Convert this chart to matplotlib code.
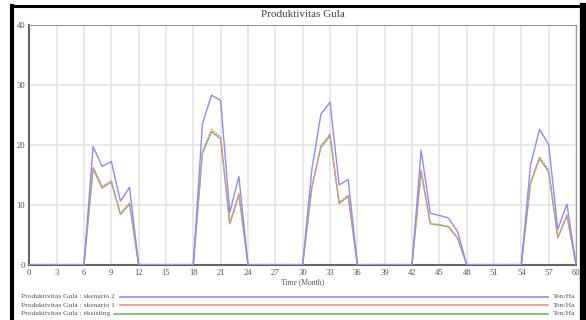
import matplotlib
matplotlib.use('Agg')
import matplotlib.pyplot as plt
from matplotlib.lines import Line2D

# data (Ton/Ha per month)
months = list(range(0, 61))

skenario_2 = [0, 0, 0, 0, 0, 0, 0, 19.7, 16.4, 17.2, 10.6, 12.9, 0,
              0, 0, 0, 0, 0, 0, 23.5, 28.3, 27.4, 8.7, 14.7, 0,
              0, 0, 0, 0, 0, 0, 15.8, 25.1, 27.1, 13.3, 14.2, 0,
              0, 0, 0, 0, 0, 0, 19.1, 8.6, 8.2, 7.8, 5.5, 0,
              0, 0, 0, 0, 0, 0, 16.6, 22.6, 20.0, 5.9, 10.1, 0]

skenario_1 = [0, 0, 0, 0, 0, 0, 0, 16.3, 13.1, 14.0, 8.6, 10.3, 0,
              0, 0, 0, 0, 0, 0, 18.9, 22.6, 21.3, 6.9, 11.9, 0,
              0, 0, 0, 0, 0, 0, 13.0, 19.9, 21.8, 10.4, 11.6, 0,
              0, 0, 0, 0, 0, 0, 15.8, 6.9, 6.7, 6.4, 4.5, 0,
              0, 0, 0, 0, 0, 0, 13.8, 18.0, 15.8, 4.6, 8.3, 0]

existing = [0, 0, 0, 0, 0, 0, 0, 16.0, 12.8, 13.8, 8.4, 10.1, 0,
            0, 0, 0, 0, 0, 0, 18.6, 22.2, 21.0, 6.8, 11.7, 0,
            0, 0, 0, 0, 0, 0, 12.8, 19.6, 21.5, 10.2, 11.4, 0,
            0, 0, 0, 0, 0, 0, 15.6, 6.8, 6.6, 6.3, 4.4, 0,
            0, 0, 0, 0, 0, 0, 13.6, 17.7, 15.5, 4.5, 8.2, 0]

x_ticks = list(range(0, 61, 3))
y_ticks = [0, 10, 20, 30, 40]

series_names = ['Produktivitas Gula : skenario 2',
                'Produktivitas Gula : skenario 1',
                'Produktivitas Gula : eksisting']
unit = 'Ton/Ha'

blue = '#8c8cff'
red = '#ff8a8a'
green = '#6cb86c'
txt = '#555555'

plt.rcParams['font.family'] = ['Liberation Serif', 'DejaVu Serif']

fig = plt.figure(figsize=(5.86, 3.2), dpi=100)
fig.patch.set_facecolor('white')

ax = fig.add_axes([0.05, 0.173, 0.933, 0.749])
ax.plot(months, existing, color=green, lw=1.0, zorder=3)
ax.plot(months, skenario_1, color=red, lw=1.0, ls=(0, (1.5, 0.8)), zorder=4)
ax.plot(months, skenario_2, color=blue, lw=1.0, zorder=5)

ax.set_xlim(0, 60)
ax.set_ylim(0, 40)
ax.set_xticks(x_ticks)
ax.set_yticks(y_ticks)
ax.set_xticklabels([str(t) for t in x_ticks], fontsize=6.2, color=txt)
ax.set_yticklabels([str(t) for t in y_ticks], fontsize=6.2, color=txt)
ax.tick_params(length=0, pad=3)
ax.grid(True, color='#e4e4e4', lw=1.2)
ax.set_axisbelow(True)
ax.spines['left'].set_color('#666666')
ax.spines['left'].set_linewidth(1.5)
ax.spines['bottom'].set_color('#666666')
ax.spines['bottom'].set_linewidth(1.5)
ax.spines['top'].set_color('#999999')
ax.spines['right'].set_color('#999999')
ax.set_xlabel('Time (Month)', fontsize=5.5, color=txt, labelpad=1)

fig.text(0.517, 0.955, 'Produktivitas Gula', fontsize=8, color='#444444',
         ha='center', va='center')

# legend rows at the bottom
colors = [blue, red, green]
rows_y = [0.073, 0.046, 0.019]
for name, c, yy in zip(series_names, colors, rows_y):
  fig.text(0.036, yy, name, fontsize=5.4, color=txt, va='center')
  x0 = 0.205 if c != green else 0.195
  fig.add_artist(Line2D([x0, 0.935], [yy, yy], color=c, lw=1.2,
                        transform=fig.transFigure))
  fig.text(0.943, yy, unit, fontsize=5.4, color=txt, va='center')

# black screenshot frame
fig.add_artist(Line2D([0.0205, 0.0205], [0.0, 0.98], color='black', lw=3,
                      transform=fig.transFigure))
fig.add_artist(Line2D([0.0185, 0.996], [0.98, 0.98], color='black', lw=2.2,
                      transform=fig.transFigure))
fig.add_artist(Line2D([0.9945, 0.9945], [0.0, 0.98], color='black', lw=4.5,
                      transform=fig.transFigure))

fig.savefig('out.png', dpi=100)
